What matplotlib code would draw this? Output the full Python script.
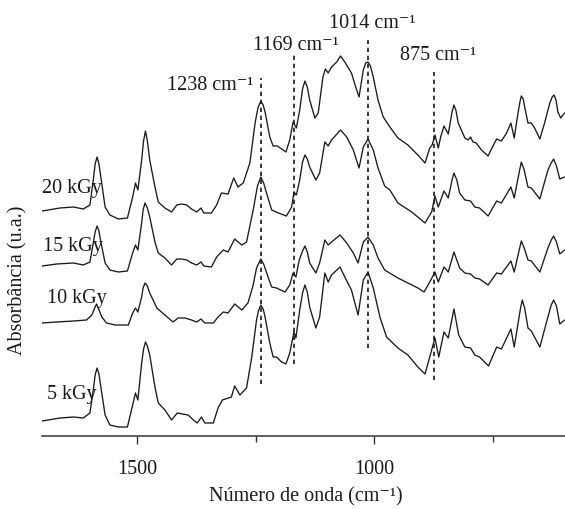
import matplotlib
matplotlib.use("Agg")
import matplotlib.pyplot as plt
from matplotlib.ticker import FixedLocator, NullFormatter

plt.rcParams['font.family'] = ['Liberation Serif', 'DejaVu Serif']

# Wavenumber (cm-1) / absorbance (a.u., stacked)
wn_20 = [1700,1662,1634,1613,1599,1592,1584,1576,1567,1557,1539,1520,1509,1503,1498,1490,1482,1473,1462,1455,
         1441,1427,1416,1406,1395,1385,1374,1365,1359,1343,1332,1322,1308,1296,1287,1276,1262,1251,1239,1230,
         1220,1213,1204,1195,1186,1178,1171,1164,1157,1146,1136,1125,1118,1108,1103,1097,1090,1079,1071,1062,
         1048,1039,1032,1023,1013,1002,992,981,967,950,929,908,893,883,878,872,865,860,853,844,
         832,823,809,802,797,792,785,774,760,752,742,732,721,712,705,697,690,683,676,669,
         662,651,641,630,621,613,607,599]
ab_20 = [2.25,2.28,2.29,2.27,2.31,2.56,2.79,2.59,2.29,2.21,2.17,2.18,2.39,2.53,2.46,2.76,3.05,2.76,2.49,2.34,
         2.28,2.24,2.31,2.32,2.31,2.27,2.24,2.28,2.23,2.23,2.31,2.43,2.42,2.58,2.49,2.53,2.73,3.13,3.35,3.24,
         2.99,2.90,2.90,2.87,2.84,2.96,3.14,3.08,3.26,3.55,3.36,3.18,3.23,3.59,3.67,3.63,3.69,3.74,3.80,3.74,
         3.63,3.49,3.39,3.66,3.74,3.59,3.36,3.19,3.09,2.98,2.91,2.81,2.73,2.88,2.91,3.01,2.88,2.99,3.10,3.02,
         3.31,3.13,2.98,2.96,2.99,2.94,2.93,2.86,2.80,2.88,2.97,2.95,3.03,3.13,2.98,3.23,3.40,3.29,3.13,3.13,
         3.08,2.97,3.13,3.33,3.41,3.24,3.18,3.23]
wn_20_peaks = [1588,1580,1486,1478,1245,1234,1151,1141,1018,1008,836,828,693,686,625,617]
ab_20_peaks = [2.72,2.72,2.95,2.95,3.28,3.31,3.47,3.49,3.73,3.70,3.24,3.26,3.34,3.37,3.39,3.36]

wn_15 = [1700,1669,1634,1613,1599,1592,1584,1576,1567,1557,1539,1520,1509,1503,1498,1490,1483,1473,1462,1455,
         1441,1427,1416,1406,1395,1385,1374,1365,1359,1343,1332,1318,1308,1294,1279,1269,1255,1239,1227,1216,
         1202,1185,1174,1169,1164,1157,1146,1136,1123,1115,1104,1097,1090,1071,1058,1044,1032,1023,1013,1002,
         992,978,967,950,921,893,879,872,865,853,844,832,820,809,797,788,778,760,742,732,
         712,705,690,676,669,651,634,622,609,599]
ab_15 = [1.70,1.72,1.73,1.71,1.74,1.93,2.10,1.94,1.73,1.66,1.64,1.65,1.83,1.91,1.86,2.13,2.33,2.19,1.94,1.83,
         1.78,1.71,1.77,1.77,1.76,1.73,1.71,1.74,1.70,1.69,1.79,1.86,1.84,1.97,1.91,1.94,2.26,2.59,2.43,2.26,
         2.23,2.20,2.29,2.44,2.41,2.56,2.81,2.69,2.56,2.63,2.94,2.90,2.96,3.06,2.99,2.86,2.68,2.89,2.97,2.86,
         2.68,2.50,2.46,2.33,2.24,2.13,2.24,2.40,2.29,2.45,2.38,2.63,2.43,2.36,2.35,2.29,2.28,2.20,2.35,2.33,
         2.49,2.38,2.74,2.49,2.48,2.37,2.66,2.77,2.57,2.59]
wn_15_peaks = [1588,1580,1487,1478,1246,1233,1151,1141,836,826,694,684,627,616]
ab_15_peaks = [2.04,2.05,2.26,2.28,2.50,2.53,2.74,2.77,2.56,2.56,2.65,2.66,2.73,2.70]

wn_10 = [1700,1669,1634,1606,1595,1588,1585,1574,1564,1546,1518,1509,1503,1498,1490,1483,1473,1458,1441,1424,
         1413,1399,1385,1374,1365,1357,1339,1329,1318,1308,1294,1279,1266,1255,1248,1239,1223,1216,1206,1188,
         1178,1171,1165,1158,1146,1136,1123,1115,1104,1097,1090,1072,1058,1044,1034,1023,1013,1002,992,978,
         950,929,908,895,883,872,865,853,844,832,820,809,797,788,778,760,742,732,712,705,
         690,676,669,651,634,622,609,599]
ab_10 = [1.13,1.14,1.15,1.16,1.21,1.29,1.32,1.19,1.13,1.11,1.11,1.23,1.28,1.24,1.39,1.53,1.43,1.28,1.21,1.14,
         1.18,1.18,1.16,1.14,1.17,1.13,1.13,1.19,1.24,1.23,1.32,1.26,1.33,1.51,1.68,1.77,1.58,1.49,1.48,1.44,
         1.51,1.63,1.59,1.76,1.90,1.73,1.63,1.73,1.96,1.91,1.94,2.01,1.93,1.83,1.73,1.94,1.99,1.91,1.78,1.66,
         1.58,1.53,1.48,1.44,1.54,1.64,1.54,1.69,1.64,1.84,1.68,1.63,1.62,1.58,1.57,1.51,1.63,1.62,1.75,1.64,
         1.95,1.76,1.75,1.64,1.88,2.00,1.82,1.86]
wn_10_peaks = [1487,1478,1233,1151,1141,694,684,627,616]
ab_10_peaks = [1.48,1.50,1.72,1.85,1.84,1.87,1.88,1.96,1.94]

wn_5 = [1700,1662,1634,1613,1599,1592,1584,1576,1567,1557,1539,1520,1509,1503,1498,1490,1482,1473,1462,1455,
        1441,1427,1415,1404,1392,1381,1373,1364,1357,1339,1329,1320,1301,1294,1283,1269,1258,1248,1239,1230,
        1220,1213,1206,1195,1186,1178,1169,1165,1157,1146,1136,1123,1115,1104,1097,1090,1072,1062,1048,1034,
        1023,1013,1002,988,974,950,929,908,893,883,872,864,853,844,832,822,809,797,788,778,
        759,742,732,712,705,688,676,669,651,634,622,609,599]
ab_5 = [0.15,0.18,0.19,0.18,0.23,0.46,0.68,0.49,0.21,0.11,0.09,0.09,0.31,0.43,0.36,0.73,0.94,0.81,0.49,0.33,
        0.26,0.16,0.23,0.22,0.21,0.16,0.13,0.19,0.13,0.13,0.28,0.36,0.39,0.50,0.41,0.48,0.79,1.16,1.31,1.19,
        0.93,0.79,0.79,0.74,0.72,0.83,1.04,0.98,1.26,1.51,1.29,1.08,1.19,1.63,1.54,1.61,1.69,1.59,1.46,1.21,
        1.56,1.64,1.48,1.19,0.99,0.88,0.81,0.69,0.62,0.79,0.98,0.79,1.04,0.98,1.27,1.01,0.89,0.88,0.81,0.79,
        0.70,0.89,0.87,1.07,0.89,1.36,1.08,1.05,0.89,1.19,1.36,1.12,1.16]
wn_5_peaks = [1588,1580,1486,1478,1244,1234,1151,1141,692,683,627,616]
ab_5_peaks = [0.61,0.62,0.87,0.90,1.25,1.27,1.43,1.44,1.27,1.28,1.31,1.30]

series_labels = ['20 kGy', '15 kGy', '10 kGy', '5 kGy']
label_pos = [(1700, 2.48), (1697, 1.89), (1690, 1.37), (1690, 0.41)]

peak_wn = [1238, 1169, 1014, 875]
peak_labels = ['1238 cm⁻¹', '1169 cm⁻¹', '1014 cm⁻¹', '875 cm⁻¹']
peak_line_lo = [0.52, 0.72, 0.88, 0.56]
peak_line_hi = [3.58, 3.81, 3.96, 3.64]
peak_label_pos = [(1346, 3.50), (1165, 3.91), (1005, 4.12), (866, 3.81)]

xticks_major = [1500, 1000]
xticks_minor = [1250, 750]

W, H = 565, 509
fig = plt.figure(figsize=(W/100, H/100), dpi=100)
ax = fig.add_axes([42/W, (H-436)/H, 523/W, 436/H])

col = '#1a1a1a'
spectra = [(wn_20 + wn_20_peaks, ab_20 + ab_20_peaks),
           (wn_15 + wn_15_peaks, ab_15 + ab_15_peaks),
           (wn_10 + wn_10_peaks, ab_10 + ab_10_peaks),
           (wn_5 + wn_5_peaks, ab_5 + ab_5_peaks)]
for wn, ab in spectra:
    pts = sorted(zip(wn, ab), key=lambda p: -p[0])
    ax.plot([p[0] for p in pts], [p[1] for p in pts], color=col, lw=0.95,
            solid_joinstyle='round', solid_capstyle='round')

for lab, (x, y) in zip(series_labels, label_pos):
    ax.text(x, y, lab, fontsize=14.5, ha='left', va='center', color=col)

for w, lo, hi in zip(peak_wn, peak_line_lo, peak_line_hi):
    ax.plot([w, w], [lo, hi], color=col, lw=1.2, linestyle=(0, (2.6, 2.2)))

for lab, (x, y) in zip(peak_labels, peak_label_pos):
    ax.text(x, y, lab, fontsize=14.5, ha='center', va='center', color=col)

ax.set_xlim(1700, 598)
ax.set_ylim(0, 4.36)

for s in ['left', 'right', 'top']:
    ax.spines[s].set_visible(False)
ax.spines['bottom'].set_linewidth(1.1)
ax.spines['bottom'].set_color('#333333')
ax.set_yticks([])
ax.xaxis.set_major_locator(FixedLocator(xticks_major))
ax.xaxis.set_minor_locator(FixedLocator(xticks_minor))
ax.xaxis.set_minor_formatter(NullFormatter())
ax.tick_params(axis='x', which='major', direction='out', length=6, width=1.0,
               pad=11, labelsize=14.5, colors='#333333', labelcolor=col)
ax.tick_params(axis='x', which='minor', direction='out', length=4, width=1.0, colors='#333333')
ax.patch.set_alpha(0)

fig.text(306/W, 1-497/H, 'Número de onda (cm⁻¹)', fontsize=14.5, ha='center', va='center', color=col)
fig.text(18/W, 1-280/H, 'Absorbância (u.a.)', fontsize=14.5, ha='center', va='center',
         rotation=90, color=col)

fig.savefig('out.png', dpi=100)
